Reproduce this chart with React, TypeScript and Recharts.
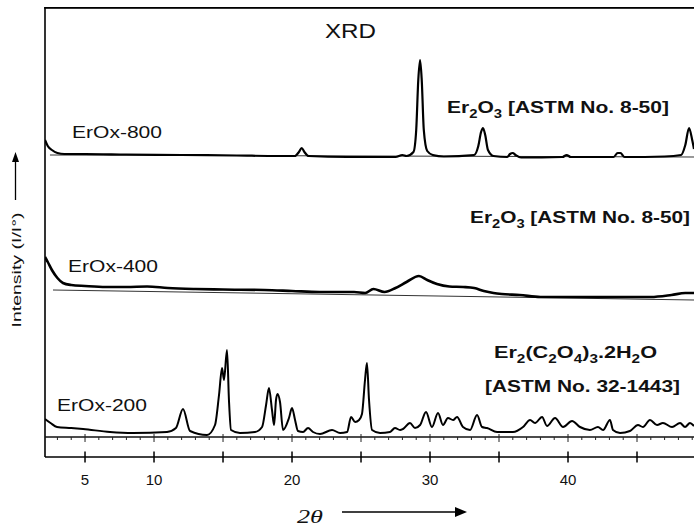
import React from 'react';
import { ComposedChart, Line, XAxis, YAxis, Scatter, ReferenceLine } from 'recharts';

// 2θ (degrees) vs. intensity (a.u.)
const erox800: [number, number][] = [
  [2.1, 17], [2.3, 11], [2.6, 7], [3.0, 4], [3.5, 3], [5, 3], [8, 2.5], [12, 2], [16, 1.5], [19, 1],
  [20.2, 1], [20.5, 5], [20.7, 9], [20.9, 5], [21.2, 1], [24, 0], [27.5, 0], [28.0, 2], [28.3, 1],
  [28.8, 5], [29.0, 27], [29.15, 77], [29.28, 97], [29.4, 77], [29.55, 27], [29.8, 6], [30.2, 2],
  [31, 0.5], [33.2, 2], [33.5, 11], [33.7, 25], [33.84, 29], [34.0, 22], [34.2, 7], [34.6, 1],
  [35.6, 0], [35.8, 3], [36.0, 4], [36.2, 2], [36.6, -0.5], [39.6, 0], [39.9, 2], [40.2, 0],
  [43.3, 0], [43.6, 4], [43.8, 4], [44.1, 0], [47.0, 0.5], [48.2, 2], [48.5, 12], [48.77, 29],
  [49.0, 17], [49.13, 8],
];

const erox400: [number, number][] = [
  [2.1, 45], [2.3, 40], [2.6, 32], [3.0, 24], [3.4, 19], [4.0, 17], [5.0, 16], [6.5, 15], [8.0, 15],
  [9.5, 15.5], [11, 14], [13, 13], [15, 12.5], [18, 12], [20, 11], [22, 10], [24.5, 10], [25.3, 9],
  [25.9, 13], [26.7, 10], [27.5, 14], [28.3, 20], [29.2, 26], [29.8, 22], [30.5, 18], [31.4, 15.5],
  [32.4, 15], [33.2, 14], [33.9, 11], [34.6, 9], [35.2, 8], [36.5, 7], [38, 5], [40, 5], [43, 5],
  [46, 5], [47.5, 7], [48.5, 9], [49.13, 9],
];

const erox200: [number, number][] = [
  [2.1, 18], [2.5, 14], [2.97, 10], [4.0, 9], [4.86, 8], [6.81, 5], [8.48, 4], [10.94, 5], [11.59, 9],
  [12.1, 28], [12.61, 6], [13.84, 2], [14.42, 12], [14.71, 42], [14.93, 69], [15.07, 57], [15.29, 87],
  [15.43, 37], [15.58, 7], [16.23, 4], [17.32, 5], [17.83, 10], [18.12, 32], [18.33, 49], [18.55, 27],
  [18.7, 12], [18.84, 37], [18.95, 43], [19.13, 35], [19.35, 7], [19.78, 19], [20.0, 29], [20.22, 17],
  [20.43, 6], [20.8, 5], [21.16, 9], [21.52, 5], [22.03, 3], [22.9, 7], [23.48, 4], [23.99, 5],
  [24.28, 20], [24.57, 15], [24.86, 17], [25.07, 23], [25.29, 57], [25.43, 74], [25.58, 37], [25.8, 7],
  [26.38, 4], [27.1, 5], [27.46, 9], [27.83, 7], [28.04, 8], [28.55, 14], [28.91, 9], [29.28, 12],
  [29.71, 25], [30.14, 10], [30.58, 24], [30.94, 12], [31.3, 19], [31.67, 17], [31.96, 20], [32.39, 10],
  [32.9, 7], [33.41, 22], [33.77, 10], [34.13, 9], [34.86, 5], [36.01, 5], [36.74, 10], [37.25, 17],
  [37.61, 14], [38.12, 20], [38.48, 11], [39.06, 19], [39.64, 10], [40.29, 16], [40.87, 10], [41.59, 7],
  [42.17, 10], [42.54, 7], [43.04, 17], [43.26, 7], [43.77, 4], [44.49, 6], [45.07, 12], [45.43, 10],
  [45.94, 17], [46.45, 12], [46.88, 14], [47.54, 10], [48.12, 14], [48.48, 10], [48.84, 14], [49.13, 11],
];

// reference (background) lines under each pattern
const base800: [number, number][] = [[2.46, 2], [49.13, 0]];
const base400: [number, number][] = [[2.68, 12], [49.13, 2]];
const base200: [number, number][] = [[2.1, 0], [49.13, 0]];

// vertical offsets of the stacked patterns
const offset800 = 300;
const offset400 = 155;
const offset200 = 20;

const xDomain: [number, number] = [2.1, 49.13];
const yDomain: [number, number] = [0, 450];
const xTicks = [5, 10, 15, 20, 25, 30, 35, 40, 45];
const xTickLabels: Record<number, string> = { 5: '5', 10: '10', 20: '20', 30: '30', 40: '40' };
const baselineTicks = [3, 4, 5, 6, 7, 8, 9, 10, 11, 12, 13, 14, 15, 16, 17, 18, 19, 20, 21, 22, 23, 24, 25,
  26, 27, 28, 29, 30, 31, 32, 33, 34, 35, 36, 37, 38, 39, 40, 41, 42, 43, 44, 45, 46, 47, 48, 49];

const toData = (arr: [number, number][], off: number) => arr.map(([x, y]) => ({ x, y: y + off }));

const W = 694;
const H = 526;
const FONT = '"Liberation Sans", Arial, sans-serif';

const XTick = (props: any) => {
  const { x, y, payload } = props;
  const label = xTickLabels[payload.value];
  return (
    <g>
      <line x1={x} x2={x} y1={y - 5.5} y2={y + 5.5} stroke="#000" strokeWidth={1.5} />
      {label ? (
        <text x={x} y={y + 28} textAnchor="middle" fontSize={15} fontFamily={FONT} fill="#111">
          {label}
        </text>
      ) : null}
    </g>
  );
};

const BaseTick = (props: any) => {
  const { cx, cy, payload } = props;
  const major = payload.x % 5 === 0;
  return (
    <line x1={cx} x2={cx} y1={major ? cy - 3 : cy} y2={major ? cy + 5 : cy + 3} stroke="#222" strokeWidth={1} />
  );
};

export default function App() {
  const lbl = { fontFamily: FONT, fill: '#111' } as const;
  return (
    <div style={{ position: 'absolute', left: 0, top: 0, width: W, height: H, background: '#fff' }}>
      <ComposedChart width={W} height={H} margin={{ top: 7, right: 0, bottom: 9, left: 45 }}>
        <XAxis
          type="number"
          dataKey="x"
          domain={xDomain}
          allowDataOverflow
          ticks={xTicks}
          tick={<XTick />}
          tickLine={false}
          tickSize={0}
          tickMargin={0}
          height={60}
          axisLine={{ stroke: '#000', strokeWidth: 1.5 }}
        />
        <YAxis type="number" domain={yDomain} allowDataOverflow width={0} hide />
        <ReferenceLine x={xDomain[0]} stroke="#000" strokeWidth={1.6} ifOverflow="visible" />
        <Line data={toData(base800, offset800)} dataKey="y" type="linear" stroke="#333" strokeWidth={1} dot={false} isAnimationActive={false} />
        <Line data={toData(base400, offset400)} dataKey="y" type="linear" stroke="#333" strokeWidth={1} dot={false} isAnimationActive={false} />
        <Line data={toData(base200, offset200)} dataKey="y" type="linear" stroke="#111" strokeWidth={1.3} dot={false} isAnimationActive={false} />
        <Scatter
          data={baselineTicks.map((x) => ({ x, y: offset200 }))}
          dataKey="y"
          shape={<BaseTick />}
          isAnimationActive={false}
        />
        <Line data={toData(erox800, offset800)} dataKey="y" type="monotone" stroke="#000" strokeWidth={2.2} strokeLinejoin="round" dot={false} isAnimationActive={false} />
        <Line data={toData(erox400, offset400)} dataKey="y" type="monotone" stroke="#000" strokeWidth={2.6} strokeLinejoin="round" dot={false} isAnimationActive={false} />
        <Line data={toData(erox200, offset200)} dataKey="y" type="monotone" stroke="#000" strokeWidth={2} strokeLinejoin="round" dot={false} isAnimationActive={false} />
      </ComposedChart>
      <svg width={W} height={H} style={{ position: 'absolute', left: 0, top: 0, pointerEvents: 'none' }}>
        {/* top frame of the plot box */}
        <rect x={44.2} y={7} width={650} height={1.8} fill="#000" />

        <text x={325} y={38} fontSize={21} textLength={51} lengthAdjust="spacingAndGlyphs" {...lbl}>XRD</text>

        <text x={72} y={138} fontSize={16.5} textLength={90} lengthAdjust="spacingAndGlyphs" {...lbl}>ErOx-800</text>
        <text x={68} y={272} fontSize={16.5} textLength={90} lengthAdjust="spacingAndGlyphs" {...lbl}>ErOx-400</text>
        <text x={57} y={411} fontSize={16.5} textLength={90} lengthAdjust="spacingAndGlyphs" {...lbl}>ErOx-200</text>

        <text x={447} y={113} fontSize={17} fontWeight="bold" textLength={222} lengthAdjust="spacingAndGlyphs" {...lbl}>
          Er<tspan fontSize={12} dy={5}>2</tspan><tspan dy={-5}>O</tspan><tspan fontSize={12} dy={5}>3</tspan><tspan dy={-5}> [ASTM No. 8-50]</tspan>
        </text>
        <text x={470} y={223} fontSize={17} fontWeight="bold" textLength={220} lengthAdjust="spacingAndGlyphs" {...lbl}>
          Er<tspan fontSize={12} dy={5}>2</tspan><tspan dy={-5}>O</tspan><tspan fontSize={12} dy={5}>3</tspan><tspan dy={-5}> [ASTM No. 8-50]</tspan>
        </text>
        <text x={494} y={358} fontSize={17} fontWeight="bold" textLength={163} lengthAdjust="spacingAndGlyphs" {...lbl}>
          Er<tspan fontSize={12} dy={5}>2</tspan><tspan dy={-5}>(C</tspan><tspan fontSize={12} dy={5}>2</tspan><tspan dy={-5}>O</tspan><tspan fontSize={12} dy={5}>4</tspan><tspan dy={-5}>)</tspan><tspan fontSize={12} dy={5}>3</tspan><tspan dy={-5}>.2H</tspan><tspan fontSize={12} dy={5}>2</tspan><tspan dy={-5}>O</tspan>
        </text>
        <text x={485} y={392} fontSize={17} fontWeight="bold" textLength={195} lengthAdjust="spacingAndGlyphs" {...lbl}>
          [ASTM No. 32-1443]
        </text>

        <text transform="translate(21,270) rotate(-90)" textAnchor="middle" fontSize={13} textLength={115} lengthAdjust="spacingAndGlyphs" {...lbl}>
          Intensity (I/I°)
        </text>
        <line x1={15.5} x2={15.5} y1={200} y2={160} stroke="#000" strokeWidth={1.3} />
        <polygon points="15.5,152 12,162 19,162" fill="#000" />

        <text x={297} y={523} fontSize={18} fontStyle="italic" fontFamily='"Liberation Serif", "Times New Roman", serif' fill="#111" textLength={26} lengthAdjust="spacingAndGlyphs">2θ</text>
        <line x1={342} x2={457} y1={512} y2={512} stroke="#000" strokeWidth={1.3} />
        <polygon points="467,512 455,507 455,517" fill="#000" />
      </svg>
    </div>
  );
}
